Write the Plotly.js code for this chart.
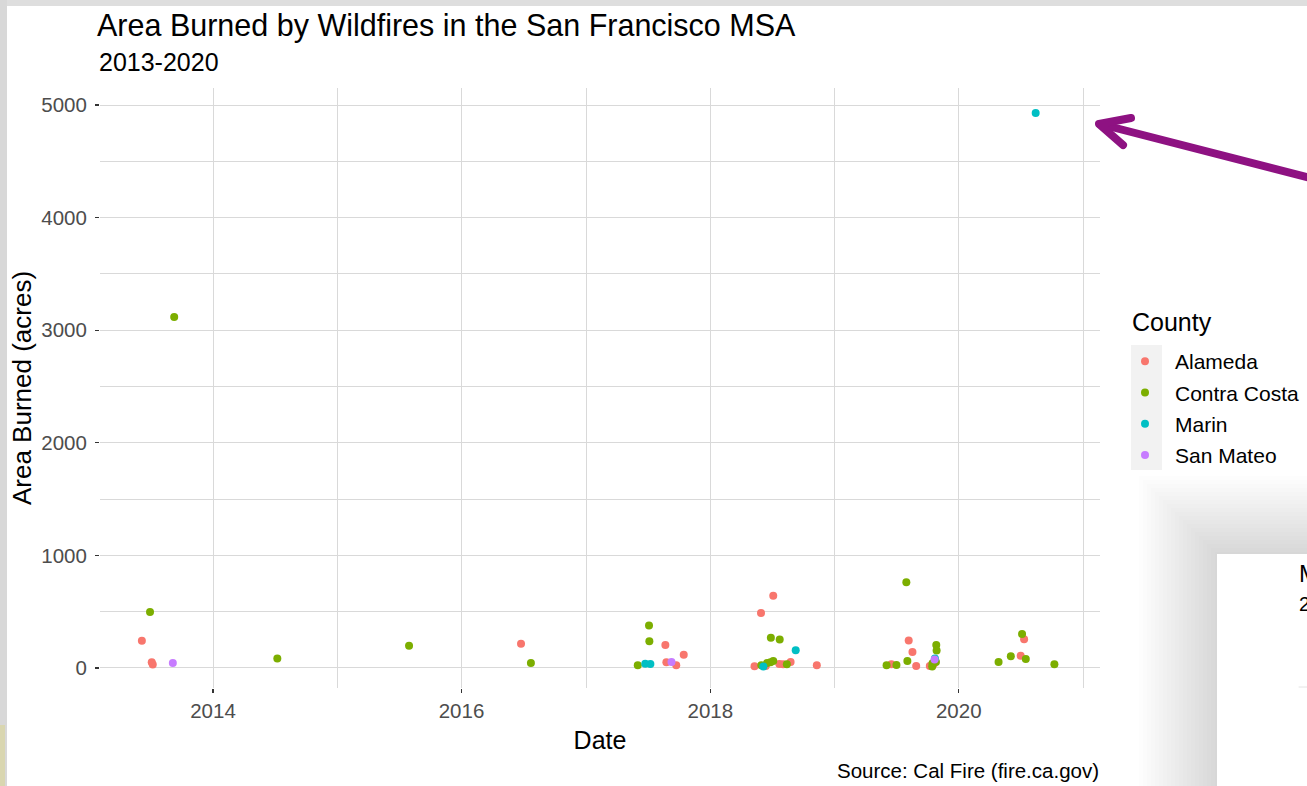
<!DOCTYPE html>
<html><head><meta charset="utf-8">
<script src="https://cdn.plot.ly/plotly-3.0.1.min.js"></script>
<style>html,body{margin:0;padding:0;background:#fff;overflow:hidden}#chart{width:1307px;height:786px}</style>
</head><body><div id="chart"></div>
<script>
// ---- data ----
const counties = ["Alameda", "Contra Costa", "Marin", "San Mateo"];

const alamedaDates = ["2013-06-06","2013-07-05","2013-07-08","2016-06-24","2017-08-22","2017-10-15","2017-08-25","2017-09-23",
  "2018-07-05","2018-05-30","2018-05-11","2018-06-13","2018-07-23","2018-08-03","2018-08-25","2018-11-10",
  "2019-08-07","2019-08-18","2019-06-17","2019-08-29","2019-10-08","2019-10-19","2020-07-11","2020-07-01"];
const alamedaAcres = [242,50,30,216,204,118,50,24,
  642,488,15,18,36,33,53,24,
  243,142,33,18,18,33,255,109];

const contraCostaDates = ["2013-06-30","2013-09-09","2014-07-09","2015-07-31","2016-07-23","2017-07-05","2017-07-06","2017-06-02",
  "2018-06-28","2018-07-24","2018-05-31","2018-06-17","2018-06-27","2018-07-05","2018-08-14",
  "2019-07-31","2019-08-03","2019-06-03","2019-07-02","2019-10-27","2019-10-28","2019-10-16","2019-10-26","2019-10-15",
  "2020-07-05","2020-06-02","2020-07-16","2020-04-27","2020-10-08"];
const contraCostaAcres = [497,3117,83,198,44,376,237,24,
  269,252,24,44,50,62,33,
  761,62,24,27,204,154,42,53,12,
  302,104,80,53,33];

const marinDates = ["2017-06-24","2017-07-09","2018-09-09","2018-06-06","2019-10-23","2020-08-14"];
const marinAcres = [38,36,157,12,85,4929];

const sanMateoDates = ["2013-09-05","2017-09-09","2019-10-22"];
const sanMateoAcres = [44,53,75];

const yTickValues = [0,1000,2000,3000,4000,5000];
const titleText = "Area Burned by Wildfires in the San Francisco MSA";
const subtitleText = "2013-2020";
const captionText = "Source: Cal Fire (fire.ca.gov)";
const legendTitleText = "County";

// ---- style ----
const colors = ["#F8766D", "#7CAE00", "#00BFC4", "#C77CFF"];
const FONT = "Liberation Sans, Arial, Helvetica, sans-serif";
const W = 1307, H = 786;
const M = {l: 100, r: 207, t: 88, b: 98};
const PW = W - M.l - M.r, PH = H - M.t - M.b;
const px = x => (x - M.l) / PW;
const py = y => (H - M.b - y) / PH;

const seriesDates = [alamedaDates, contraCostaDates, marinDates, sanMateoDates];
const seriesAcres = [alamedaAcres, contraCostaAcres, marinAcres, sanMateoAcres];

const traces = counties.map((name, i) => ({
  type: "scatter", mode: "markers", name: name, legendgroup: name,
  x: seriesDates[i], y: seriesAcres[i],
  marker: {color: colors[i], size: 8, line: {width: 0}},
  hoverinfo: "x+y+name"
}));

function rect(x0, y0, x1, y1, fill, layer) {
  return {type: "rect", xref: "paper", yref: "paper", x0: px(x0), x1: px(x1), y0: py(y0), y1: py(y1),
    fillcolor: fill, line: {width: 0}, layer: layer || "above"};
}

const shapes = [];
// legend key background
shapes.push(rect(1131, 345, 1162, 470, "#f2f2f2", "below"));
// screenshot frame
shapes.push(rect(0, 0, 1307, 6, "#dedede"));
shapes.push(rect(0, 0, 7, 786, "#d8d8d8"));
shapes.push(rect(0, 725, 5, 786, "#d9d6b0"));
// second slide card with soft shadow
for (let d = 78; d >= 2; d -= 4) {
  shapes.push(rect(1217 - d, 554 - d, 1307, 786, "rgba(0,0,0,0.009)"));
}
shapes.push(rect(1217, 554, 1307, 786, "#ffffff"));
shapes.push({type: "line", xref: "paper", yref: "paper", x0: px(1299), x1: px(1307), y0: py(687), y1: py(687),
  line: {color: "#e4e4e4", width: 1}});
// arrow
const arrowColor = "#8E1282";
shapes.push({type: "path", xref: "paper", yref: "paper",
  path: `M ${px(1310)} ${py(178)} L ${px(1100)} ${py(124)}`, line: {color: arrowColor, width: 8}});
shapes.push({type: "path", xref: "paper", yref: "paper",
  path: `M ${px(1131)} ${py(118)} L ${px(1099)} ${py(124)} L ${px(1123)} ${py(145)}`, line: {color: arrowColor, width: 8}});

const layout = {
  width: W, height: H, margin: Object.assign({autoexpand: false}, M),
  paper_bgcolor: "#ffffff", plot_bgcolor: "#ffffff",
  font: {family: FONT, color: "#000"},
  title: {text: titleText, font: {size: 30.5, color: "#000"},
    xref: "container", yref: "container", x: 97 / W, xanchor: "left", y: 1 - 25 / H, yanchor: "middle"},
  xaxis: {type: "date", range: ["2013-02-03", "2021-02-19"],
    tick0: "2014-01-01", dtick: "M24", tickformat: "%Y",
    showgrid: true, gridcolor: "#d9d9d9", gridwidth: 1,
    minor: {dtick: "M12", tick0: "2013-01-01", showgrid: true, gridcolor: "#d9d9d9", gridwidth: 1, ticks: ""},
    ticks: "outside", ticklen: 4, tickwidth: 1.2, tickcolor: "#333",
    tickfont: {size: 20.5, color: "#4d4d4d"}, zeroline: false, showline: false,
    title: {text: "Date", font: {size: 25, color: "#000"}, standoff: 10}, automargin: false},
  yaxis: {range: [-178, 5151], tickvals: yTickValues,
    showgrid: true, gridcolor: "#d9d9d9", gridwidth: 1,
    minor: {dtick: 500, tick0: 0, showgrid: true, gridcolor: "#d9d9d9", gridwidth: 1, ticks: ""},
    ticks: "outside", ticklen: 4, tickwidth: 1.2, tickcolor: "#333", ticklabelstandoff: 4,
    tickfont: {size: 20.5, color: "#4d4d4d"}, zeroline: false, showline: false,
    title: {text: "Area Burned (acres)", font: {size: 26, color: "#000"}, standoff: 2}, automargin: false},
  legend: {x: px(1115), xanchor: "left", y: py(341), yanchor: "top",
    bgcolor: "rgba(0,0,0,0)", font: {size: 21, color: "#000"},
    tracegroupgap: 1, itemsizing: "trace", itemwidth: 50},
  annotations: [
    {text: subtitleText, xref: "paper", yref: "paper", x: px(97), xanchor: "left", y: py(62), yanchor: "middle",
      showarrow: false, font: {size: 25, color: "#000"}},
    {text: legendTitleText, xref: "paper", yref: "paper", x: px(1130), xanchor: "left", y: py(322), yanchor: "middle",
      showarrow: false, font: {size: 25, color: "#000"}},
    {text: captionText, xref: "paper", yref: "paper", x: px(1101), xanchor: "right", y: py(770), yanchor: "middle",
      showarrow: false, font: {size: 20.5, color: "#000"}},
    {text: "M", xref: "paper", yref: "paper", x: px(1297), xanchor: "left", y: py(573), yanchor: "middle",
      showarrow: false, font: {size: 24, color: "#000"}},
    {text: "2", xref: "paper", yref: "paper", x: px(1297), xanchor: "left", y: py(604), yanchor: "middle",
      showarrow: false, font: {size: 20, color: "#000"}}
  ],
  shapes: shapes,
  showlegend: true
};

Plotly.newPlot("chart", traces, layout, {displayModeBar: false, staticPlot: true}).then(() => {
  document.querySelectorAll(".shapelayer path").forEach(p => {
    p.style.strokeLinecap = "round"; p.style.strokeLinejoin = "round";
  });
});
</script></body></html>
